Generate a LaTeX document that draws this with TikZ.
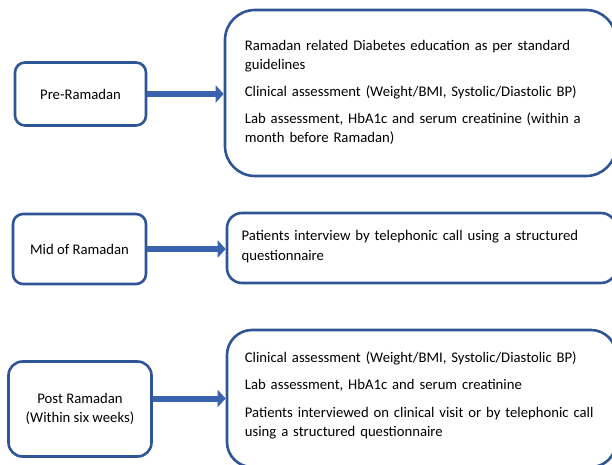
\documentclass[tikz,border=0pt]{standalone}
\usepackage{fontspec}
\setmainfont{Carlito}
\usetikzlibrary{positioning,arrows.meta}
\definecolor{boxblue}{HTML}{2F5597}
\definecolor{arrowblue}{HTML}{3A62AE}
\newcommand{\boxfont}{\fontsize{14.7pt}{19.3pt}\selectfont}
\tikzstyle{stage}=[draw=boxblue, line width=2.6pt, fill=white, rounded corners=10pt, align=center, font=\boxfont, inner sep=0pt]
\tikzstyle{info}=[draw=boxblue, line width=2.6pt, fill=white, inner sep=0pt]
\tikzstyle{items}=[text width=372pt, align=left, inner sep=0pt, font=\boxfont]
\tikzstyle{flow}=[draw=arrowblue, line width=6pt, -{Triangle[length=8pt,width=17pt]}]

\begin{document}
\begin{tikzpicture}[x=1pt,y=-1pt]
\useasboundingbox (0,0) rectangle (612,465);

% stages
\node[stage, minimum width=131pt, minimum height=63pt] at (80.5,94) (pre) {Pre-Ramadan};
\node[stage, minimum width=133pt, minimum height=70pt] at (79.5,249) (mid) {Mid of Ramadan};
\node[stage, minimum width=143pt, minimum height=95pt, rounded corners=14pt] at (80,409) (post) {Post Ramadan\\(Within six weeks)};

% what is done at each stage
\node[info, minimum width=391pt, minimum height=166pt, rounded corners=30pt] at (420.5,93) (preinfo) {};
\node[info, minimum width=389pt, minimum height=70pt, rounded corners=15pt] at (421.5,248) (midinfo) {};
\node[info, minimum width=389pt, minimum height=137pt, rounded corners=25pt] at (421.5,398.5) (postinfo) {};

\node[items, below right=31.3pt and 21pt of preinfo.north west] (preitems) {Ramadan related Diabetes education as per standard\\guidelines\\[7.5pt]Clinical assessment (Weight/BMI, Systolic/Diastolic BP)\\[7.5pt]Lab assessment, HbA1c and serum creatinine (within a\\month before Ramadan)};
\node[items, below right=18.8pt and 15.7pt of midinfo.north west] (miditems) {Patients interview by telephonic call using a structured\\questionnaire};
\node[items, below right=23pt and 19pt of postinfo.north west] (postitems) {Clinical assessment (Weight/BMI, Systolic/Diastolic BP)\\[7.5pt]Lab assessment, HbA1c and serum creatinine\\[8.5pt]Patients interviewed on clinical visit or by telephonic call\\using a structured questionnaire};

\draw[flow] (pre.east) -- (pre.east -| preinfo.west);
\draw[flow] (mid.east) -- (mid.east -| midinfo.west);
\draw[flow] (post.east |- postinfo.west) -- (postinfo.west);
\end{tikzpicture}
\end{document}
